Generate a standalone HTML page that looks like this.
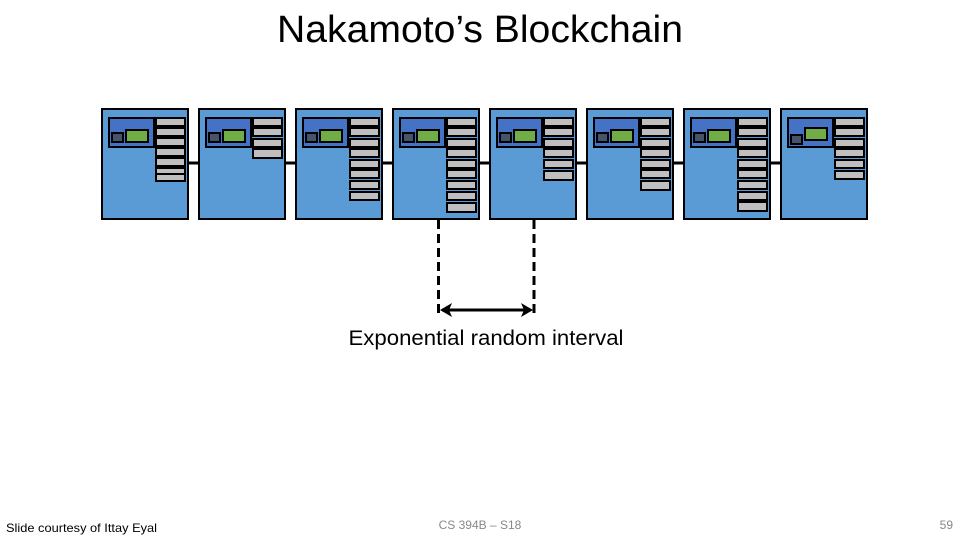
<!DOCTYPE html>
<html><head><meta charset="utf-8"><style>
body{margin:0;background:#fff;}
svg{display:block}
text{font-family:"Liberation Sans",sans-serif}
</style></head><body>
<svg width="960" height="540" xmlns="http://www.w3.org/2000/svg">
<text x="480" y="42" font-size="38" text-anchor="middle" fill="#000" textLength="406" lengthAdjust="spacingAndGlyphs">Nakamoto’s Blockchain</text>
<line x1="188" y1="163" x2="781" y2="163" stroke="#000" stroke-width="3"/>
<g stroke="#000" stroke-width="2">
<g transform="translate(102,0)">
<rect x="0" y="109" width="86" height="110" fill="#5b9bd5"/>
<rect x="7" y="118" width="45" height="29" fill="#4472c4"/>
<rect x="10" y="133" width="11" height="9" fill="#44546a"/>
<rect x="24" y="130" width="22" height="12" fill="#70ad47"/>
<rect x="54" y="118" width="29" height="8" fill="#bfbfbf"/><rect x="54" y="128" width="29" height="8" fill="#bfbfbf"/><rect x="54" y="138" width="29" height="8" fill="#bfbfbf"/><rect x="54" y="148" width="29" height="8" fill="#bfbfbf"/><rect x="54" y="158" width="29" height="8" fill="#bfbfbf"/><rect x="54" y="168" width="29" height="8" fill="#bfbfbf"/><rect x="54" y="174" width="29" height="7" fill="#bfbfbf"/>
</g>
<g transform="translate(199,0)">
<rect x="0" y="109" width="86" height="110" fill="#5b9bd5"/>
<rect x="7" y="118" width="45" height="29" fill="#4472c4"/>
<rect x="10" y="133" width="11" height="9" fill="#44546a"/>
<rect x="24" y="130" width="22" height="12" fill="#70ad47"/>
<rect x="54" y="118" width="29" height="8" fill="#bfbfbf"/><rect x="54" y="128" width="29" height="8" fill="#bfbfbf"/><rect x="54" y="139" width="29" height="8" fill="#bfbfbf"/><rect x="54" y="149" width="29" height="9" fill="#bfbfbf"/>
</g>
<g transform="translate(296,0)">
<rect x="0" y="109" width="86" height="110" fill="#5b9bd5"/>
<rect x="7" y="118" width="45" height="29" fill="#4472c4"/>
<rect x="10" y="133" width="11" height="9" fill="#44546a"/>
<rect x="24" y="130" width="22" height="12" fill="#70ad47"/>
<rect x="54" y="118" width="29" height="8" fill="#bfbfbf"/><rect x="54" y="128" width="29" height="8" fill="#bfbfbf"/><rect x="54" y="139" width="29" height="8" fill="#bfbfbf"/><rect x="54" y="149" width="29" height="8" fill="#bfbfbf"/><rect x="54" y="160" width="29" height="8" fill="#bfbfbf"/><rect x="54" y="170" width="29" height="8" fill="#bfbfbf"/><rect x="54" y="181" width="29" height="8" fill="#bfbfbf"/><rect x="54" y="192" width="29" height="8" fill="#bfbfbf"/>
</g>
<g transform="translate(393,0)">
<rect x="0" y="109" width="86" height="110" fill="#5b9bd5"/>
<rect x="7" y="118" width="45" height="29" fill="#4472c4"/>
<rect x="10" y="133" width="11" height="9" fill="#44546a"/>
<rect x="24" y="130" width="22" height="12" fill="#70ad47"/>
<rect x="54" y="118" width="29" height="8" fill="#bfbfbf"/><rect x="54" y="128" width="29" height="8" fill="#bfbfbf"/><rect x="54" y="139" width="29" height="8" fill="#bfbfbf"/><rect x="54" y="149" width="29" height="8" fill="#bfbfbf"/><rect x="54" y="160" width="29" height="8" fill="#bfbfbf"/><rect x="54" y="170" width="29" height="8" fill="#bfbfbf"/><rect x="54" y="181" width="29" height="8" fill="#bfbfbf"/><rect x="54" y="192" width="29" height="8" fill="#bfbfbf"/><rect x="54" y="203" width="29" height="9" fill="#bfbfbf"/>
</g>
<g transform="translate(490,0)">
<rect x="0" y="109" width="86" height="110" fill="#5b9bd5"/>
<rect x="7" y="118" width="45" height="29" fill="#4472c4"/>
<rect x="10" y="133" width="11" height="9" fill="#44546a"/>
<rect x="24" y="130" width="22" height="12" fill="#70ad47"/>
<rect x="54" y="118" width="29" height="8" fill="#bfbfbf"/><rect x="54" y="128" width="29" height="8" fill="#bfbfbf"/><rect x="54" y="139" width="29" height="8" fill="#bfbfbf"/><rect x="54" y="149" width="29" height="8" fill="#bfbfbf"/><rect x="54" y="160" width="29" height="8" fill="#bfbfbf"/><rect x="54" y="171" width="29" height="9" fill="#bfbfbf"/>
</g>
<g transform="translate(587,0)">
<rect x="0" y="109" width="86" height="110" fill="#5b9bd5"/>
<rect x="7" y="118" width="45" height="29" fill="#4472c4"/>
<rect x="10" y="133" width="11" height="9" fill="#44546a"/>
<rect x="24" y="130" width="22" height="12" fill="#70ad47"/>
<rect x="54" y="118" width="29" height="8" fill="#bfbfbf"/><rect x="54" y="128" width="29" height="8" fill="#bfbfbf"/><rect x="54" y="139" width="29" height="8" fill="#bfbfbf"/><rect x="54" y="149" width="29" height="8" fill="#bfbfbf"/><rect x="54" y="160" width="29" height="8" fill="#bfbfbf"/><rect x="54" y="170" width="29" height="8" fill="#bfbfbf"/><rect x="54" y="181" width="29" height="9" fill="#bfbfbf"/>
</g>
<g transform="translate(684,0)">
<rect x="0" y="109" width="86" height="110" fill="#5b9bd5"/>
<rect x="7" y="118" width="45" height="29" fill="#4472c4"/>
<rect x="10" y="133" width="11" height="9" fill="#44546a"/>
<rect x="24" y="130" width="22" height="12" fill="#70ad47"/>
<rect x="54" y="118" width="29" height="8" fill="#bfbfbf"/><rect x="54" y="128" width="29" height="8" fill="#bfbfbf"/><rect x="54" y="139" width="29" height="8" fill="#bfbfbf"/><rect x="54" y="149" width="29" height="8" fill="#bfbfbf"/><rect x="54" y="160" width="29" height="8" fill="#bfbfbf"/><rect x="54" y="170" width="29" height="8" fill="#bfbfbf"/><rect x="54" y="181" width="29" height="8" fill="#bfbfbf"/><rect x="54" y="192" width="29" height="8" fill="#bfbfbf"/><rect x="54" y="202" width="29" height="9" fill="#bfbfbf"/>
</g>
<g transform="translate(781,0)">
<rect x="0" y="109" width="86" height="110" fill="#5b9bd5"/>
<rect x="7" y="118" width="45" height="29" fill="#4472c4"/>
<rect x="10" y="135" width="11" height="9" fill="#44546a"/>
<rect x="24" y="128" width="22" height="12" fill="#70ad47"/>
<rect x="54" y="118" width="29" height="8" fill="#bfbfbf"/><rect x="54" y="128" width="29" height="8" fill="#bfbfbf"/><rect x="54" y="139" width="29" height="8" fill="#bfbfbf"/><rect x="54" y="149" width="29" height="8" fill="#bfbfbf"/><rect x="54" y="160" width="29" height="8" fill="#bfbfbf"/><rect x="54" y="171" width="29" height="8" fill="#bfbfbf"/>
</g>
</g>
<g stroke="#000" stroke-width="3" stroke-dasharray="9,5">
<line x1="438.5" y1="220" x2="438.5" y2="318"/>
<line x1="534" y1="220" x2="534" y2="318"/>
</g>
<line x1="442" y1="310" x2="531" y2="310" stroke="#000" stroke-width="3"/>
<path d="M440,310 L452,303 L449,310 L452,317 Z" fill="#000"/>
<path d="M533,310 L521,303 L524,310 L521,317 Z" fill="#000"/>
<text x="486" y="345" font-size="21" text-anchor="middle" textLength="275" lengthAdjust="spacingAndGlyphs">Exponential random interval</text>
<text x="6" y="532" font-size="12" textLength="151" lengthAdjust="spacingAndGlyphs">Slide courtesy of Ittay Eyal</text>
<text x="480" y="529" font-size="12" text-anchor="middle" fill="#888">CS 394B – S18</text>
<text x="953" y="529" font-size="12" text-anchor="end" fill="#888">59</text>
</svg>
</body></html>
